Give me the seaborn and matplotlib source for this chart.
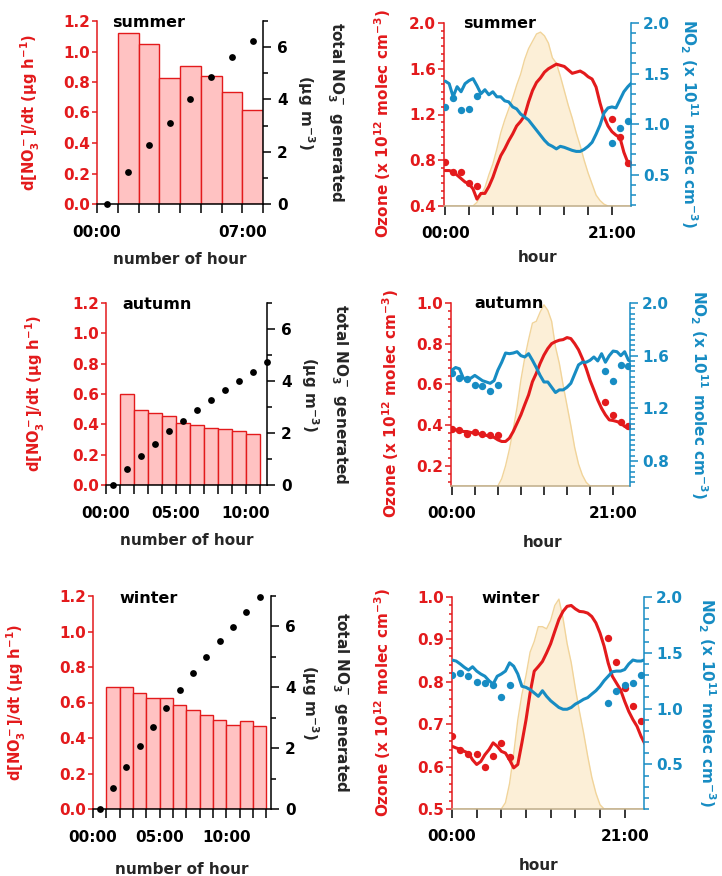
import numpy as np
import pandas as pd
import seaborn as sns
import matplotlib
matplotlib.use('Agg')
from matplotlib import pyplot as plt
from matplotlib.ticker import MultipleLocator, AutoMinorLocator, FuncFormatter, FormatStrFormatter

RED = '#E31A1C'
BLUE = '#178CC3'
BAR_FILL = '#FFC2C2'
SUN_FILL = '#FCEFD7'
SUN_EDGE = '#F1D49A'
BASE = '#BFAE8C'

# ---- left column: nocturnal nitrate production ----
rate_summer = [1.12, 1.047, 0.827, 0.906, 0.838, 0.735, 0.619]
total_summer = [0, 1.21, 2.26, 3.09, 4.02, 4.85, 5.61, 6.24]
rate_autumn = [0.603, 0.494, 0.474, 0.454, 0.412, 0.395, 0.373, 0.366, 0.353, 0.336]
total_autumn = [0, 0.60, 1.12, 1.58, 2.06, 2.48, 2.88, 3.28, 3.64, 4.00, 4.34, 4.72]
rate_winter = [0.69, 0.69, 0.655, 0.625, 0.625, 0.585, 0.555, 0.53, 0.50, 0.475, 0.495, 0.465]
total_winter = [0, 0.70, 1.38, 2.07, 2.69, 3.32, 3.90, 4.46, 5.00, 5.51, 5.98, 6.47, 6.97]

# ---- right column: diurnal ozone / NO2 / sunlight ----
hours = np.arange(0, 24, 0.5)

o3_summer = [0.71, 0.71, 0.70, 0.67, 0.64, 0.61, 0.595, 0.55,
             0.46, 0.51, 0.51, 0.57, 0.65, 0.75, 0.84, 0.90,
             0.97, 1.03, 1.10, 1.14, 1.19, 1.31, 1.41, 1.48,
             1.52, 1.57, 1.60, 1.62, 1.64, 1.63, 1.62, 1.59,
             1.56, 1.57, 1.58, 1.56, 1.53, 1.51, 1.44, 1.30,
             1.18, 1.10, 1.05, 1.02, 1.00, 0.87, 0.78, 0.74]
no2_summer = [1.425, 1.40, 1.27, 1.37, 1.32, 1.40, 1.43, 1.45,
              1.38, 1.30, 1.34, 1.29, 1.32, 1.27, 1.27, 1.23,
              1.22, 1.17, 1.15, 1.10, 1.07, 1.04, 0.99, 0.94,
              0.89, 0.84, 0.80, 0.78, 0.755, 0.78, 0.77, 0.755,
              0.74, 0.73, 0.73, 0.75, 0.78, 0.82, 0.90, 0.99,
              1.11, 1.16, 1.17, 1.16, 1.24, 1.32, 1.37, 1.41]
sun_summer = [0, 0, 0, 0, 0, 0, 0, 0,
              0.02, 0.06, 0.10, 0.17, 0.23, 0.31, 0.40, 0.47,
              0.53, 0.59, 0.66, 0.72, 0.80, 0.86, 0.90, 0.94,
              0.95, 0.93, 0.89, 0.81, 0.78, 0.71, 0.63, 0.55,
              0.48, 0.40, 0.33, 0.25, 0.18, 0.12, 0.06, 0.03,
              0.01, 0, 0, 0, 0, 0, 0, 0]
dot_hours_summer = [0, 1, 2, 3, 4, 21, 22, 23]
o3_dots_summer = [0.785, 0.70, 0.70, 0.60, 0.575, 1.16, 1.00, 0.78]
no2_dots_summer = [1.17, 1.26, 1.14, 1.15, 1.28, 0.81, 0.96, 1.035]

o3_autumn = [0.385, 0.376, 0.376, 0.368, 0.368, 0.363, 0.36, 0.357,
             0.352, 0.349, 0.344, 0.339, 0.327, 0.319, 0.319, 0.335,
             0.368, 0.409, 0.45, 0.50, 0.548, 0.613, 0.654, 0.703,
             0.744, 0.776, 0.80, 0.81, 0.817, 0.82, 0.83, 0.825,
             0.80, 0.77, 0.727, 0.678, 0.62, 0.572, 0.523, 0.482,
             0.45, 0.425, 0.422, 0.417, 0.409, 0.393, 0.384, 0.384]
no2_autumn = [1.49, 1.51, 1.50, 1.43, 1.42, 1.43, 1.45, 1.43,
              1.41, 1.40, 1.39, 1.41, 1.49, 1.55, 1.62, 1.615,
              1.62, 1.63, 1.60, 1.59, 1.615, 1.565, 1.51, 1.45,
              1.40, 1.40, 1.36, 1.32, 1.34, 1.34, 1.36, 1.39,
              1.46, 1.53, 1.55, 1.55, 1.565, 1.59, 1.56, 1.615,
              1.55, 1.60, 1.635, 1.63, 1.60, 1.63, 1.565, 1.55]
sun_autumn = [0, 0, 0, 0, 0, 0, 0, 0,
              0, 0, 0, 0, 0, 0.04, 0.11, 0.20,
              0.31, 0.43, 0.58, 0.70, 0.80, 0.89, 0.90, 0.95,
              0.99, 0.96, 0.90, 0.76, 0.67, 0.55, 0.44, 0.33,
              0.21, 0.12, 0.06, 0.02, 0, 0, 0, 0,
              0, 0, 0, 0, 0, 0, 0, 0]
dot_hours_autumn = [0, 1, 2, 3, 4, 5, 6, 20, 21, 22, 23]
o3_dots_autumn = [0.38, 0.376, 0.357, 0.368, 0.357, 0.352, 0.349, 0.515, 0.45, 0.417, 0.397]
no2_dots_autumn = [1.47, 1.43, 1.42, 1.38, 1.37, 1.33, 1.38, 1.48, 1.41, 1.53, 1.52]

o3_winter = [0.648, 0.644, 0.641, 0.636, 0.632, 0.616, 0.605, 0.612,
             0.628, 0.64, 0.656, 0.648, 0.636, 0.632, 0.616, 0.597,
             0.605, 0.656, 0.71, 0.774, 0.825, 0.836, 0.848, 0.868,
             0.89, 0.919, 0.947, 0.966, 0.978, 0.98, 0.972, 0.966,
             0.965, 0.962, 0.954, 0.939, 0.915, 0.884, 0.844, 0.813,
             0.797, 0.781, 0.754, 0.73, 0.711, 0.695, 0.671, 0.652]
no2_winter = [1.435, 1.426, 1.40, 1.37, 1.345, 1.375, 1.336, 1.31,
              1.29, 1.25, 1.22, 1.29, 1.31, 1.336, 1.41, 1.38,
              1.31, 1.20, 1.19, 1.17, 1.14, 1.11, 1.16, 1.11,
              1.07, 1.04, 1.01, 0.994, 0.994, 1.01, 1.04, 1.06,
              1.083, 1.098, 1.13, 1.16, 1.20, 1.25, 1.29, 1.33,
              1.336, 1.336, 1.35, 1.40, 1.435, 1.426, 1.426, 1.44]
sun_winter = [0, 0, 0, 0, 0, 0, 0, 0,
              0, 0, 0, 0, 0, 0.03, 0.12, 0.26,
              0.42, 0.54, 0.63, 0.74, 0.79, 0.86, 0.86, 0.85,
              0.89, 0.96, 0.99, 0.90, 0.78, 0.69, 0.57, 0.46,
              0.36, 0.25, 0.15, 0.075, 0.02, 0, 0, 0,
              0, 0, 0, 0, 0, 0, 0, 0]
dot_hours_winter = [0, 1, 2, 3, 4, 5, 6, 7, 19, 20, 21, 22, 23]
o3_dots_winter = [0.671, 0.638, 0.63, 0.63, 0.599, 0.624, 0.656, 0.623, 0.903, 0.846, 0.785, 0.742, 0.707]
no2_dots_winter = [1.30, 1.32, 1.29, 1.24, 1.23, 1.21, 1.10, 1.21, 1.05, 1.16, 1.21, 1.23, 1.30]

sns.set_theme(style='ticks')
plt.rcParams['font.family'] = ['DejaVu Sans']
plt.rcParams['font.weight'] = 'bold'
plt.rcParams['axes.labelweight'] = 'bold'
plt.rcParams['font.size'] = 11
plt.rcParams['axes.labelsize'] = 11
plt.rcParams['xtick.labelsize'] = 11
plt.rcParams['ytick.labelsize'] = 11
plt.rcParams['mathtext.fontset'] = 'custom'
plt.rcParams['mathtext.rm'] = 'DejaVu Sans:bold'
plt.rcParams['mathtext.it'] = 'DejaVu Sans:bold:italic'
plt.rcParams['mathtext.bf'] = 'DejaVu Sans:bold'
plt.rcParams['mathtext.default'] = 'rm'

W, H = 722, 876
fig = plt.figure(figsize=(W / 100, H / 100), dpi=100)


def rect(l, t, r, b):
    return [l / W, 1 - b / H, (r - l) / W, (b - t) / H]


def hour_fmt(keep):
    return FuncFormatter(lambda v, p: f'{int(round(v)):02d}:00' if int(round(v)) in keep else '')


def rate_panel(pos, season, rate, total, xmax, keep, lab, text_x):
    ax = fig.add_axes(pos)
    bars = pd.DataFrame({'hour': np.arange(len(rate)) + 1.5, 'rate': rate})
    sns.barplot(data=bars, x='hour', y='rate', native_scale=True, width=1, ax=ax,
                color=BAR_FILL, saturation=1, edgecolor=RED, linewidth=1.0, errorbar=None)
    ax.set_xlim(0, xmax)
    ax.set_ylim(0, 1.2)
    ax.set_yticks(np.arange(0, 1.21, 0.2))
    ax.yaxis.set_major_formatter(FormatStrFormatter('%.1f'))
    ax.xaxis.set_major_locator(MultipleLocator(1))
    ax.xaxis.set_major_formatter(hour_fmt(keep))
    for s in ['top', 'right']:
        ax.spines[s].set_visible(False)
    ax.spines['left'].set_color(RED)
    ax.spines['bottom'].set_color('black')
    for s in ['left', 'bottom']:
        ax.spines[s].set_linewidth(1.1)
    ax.tick_params(axis='y', colors=RED, length=3.6, width=1.1, pad=1.5)
    ax.tick_params(axis='x', colors='black', length=6.5, width=1.1, pad=8.5)
    ax.set_ylabel(r'd[NO$_3^-$]/dt (μg h$^{-1}$)', color=RED, fontsize=10.5)
    ax.yaxis.set_label_coords(lab[0], 0.5)
    ax.set_xlabel('number of hour')
    ax.xaxis.set_label_coords(0.5, lab[2])
    ax.text(text_x, 0.965, season, transform=ax.transAxes, fontsize=11.5,
            fontweight='bold', va='baseline', color='black')

    ax2 = ax.twinx()
    sns.scatterplot(x=np.arange(len(total)) + 0.5, y=total, ax=ax2, color='black',
                    s=24, linewidth=0, clip_on=False, zorder=5)
    ax2.set_ylim(0, 7)
    ax2.yaxis.set_major_locator(MultipleLocator(2))
    ax2.yaxis.set_minor_locator(MultipleLocator(1))
    for s in ['top', 'left', 'bottom']:
        ax2.spines[s].set_visible(False)
    ax2.spines['right'].set_color('black')
    ax2.spines['right'].set_linewidth(1.1)
    ax2.tick_params(axis='y', which='major', colors='black', length=5.8, width=1.1, pad=4.3)
    ax2.tick_params(axis='y', which='minor', colors='black', length=3.6, width=1.1)
    ax2.set_ylabel('total NO$_3^-$ generated\n(μg m$^{-3}$)', rotation=270, va='bottom',
                   linespacing=1.5, multialignment='center')
    ax2.yaxis.set_label_coords(lab[1], 0.5)


def chem_panel(pos, season, o3, no2, sun, dot_hours, o3_dots, no2_dots, xlim,
               o3_lim, o3_step, o3_minor, no2_lim, no2_step, no2_minor, lab, text_x):
    ax_sun = fig.add_axes(pos)
    ax_sun.fill_between(hours, sun, color=SUN_FILL, linewidth=0)
    sns.lineplot(x=hours, y=sun, ax=ax_sun, color=SUN_EDGE, linewidth=1.0)
    ax_sun.set_xlim(xlim)
    ax_sun.set_ylim(0, 1)
    ax_sun.axis('off')

    ax = fig.add_axes(pos)
    ax.patch.set_visible(False)
    sns.lineplot(x=hours, y=o3, ax=ax, color=RED, linewidth=2.2)
    sns.scatterplot(x=dot_hours, y=o3_dots, ax=ax, color=RED, s=28, linewidth=0, zorder=5)
    ax.set_xlim(xlim)
    ax.set_ylim(o3_lim)
    ax.yaxis.set_major_locator(MultipleLocator(o3_step))
    ax.yaxis.set_minor_locator(AutoMinorLocator(o3_minor))
    ax.yaxis.set_major_formatter(FormatStrFormatter('%.1f'))
    ax.xaxis.set_major_locator(MultipleLocator(3))
    ax.xaxis.set_major_formatter(hour_fmt([0, 21]))
    for s in ['top', 'right']:
        ax.spines[s].set_visible(False)
    ax.spines['left'].set_color(RED)
    ax.spines['left'].set_linewidth(1.1)
    ax.spines['bottom'].set_color(BASE)
    ax.spines['bottom'].set_linewidth(1.1)
    ax.tick_params(axis='y', which='major', colors=RED, length=4.3, width=1.1, pad=1.5)
    ax.tick_params(axis='y', which='minor', colors=RED, length=2.5, width=1.1)
    ax.tick_params(axis='x', colors='black', length=6.5, width=1.1, pad=8)
    ax.set_ylabel('Ozone (x 10$^{12}$ molec cm$^{-3}$)', color=RED)
    ax.yaxis.set_label_coords(lab[0], lab[3])
    ax.set_xlabel('hour')
    ax.xaxis.set_label_coords(lab[5], lab[2])
    ax.text(text_x, 0.97, season, transform=ax.transAxes, fontsize=11.5,
            fontweight='bold', va='baseline', color='black')

    ax2 = ax.twinx()
    sns.lineplot(x=hours, y=no2, ax=ax2, color=BLUE, linewidth=2.2)
    sns.scatterplot(x=dot_hours, y=no2_dots, ax=ax2, color=BLUE, s=28, linewidth=0, zorder=5)
    ax2.set_ylim(no2_lim)
    ax2.yaxis.set_major_locator(MultipleLocator(no2_step))
    ax2.yaxis.set_minor_locator(AutoMinorLocator(no2_minor))
    ax2.yaxis.set_major_formatter(FormatStrFormatter('%.1f'))
    for s in ['top', 'left', 'bottom']:
        ax2.spines[s].set_visible(False)
    ax2.spines['right'].set_color(BLUE)
    ax2.spines['right'].set_linewidth(1.1)
    ax2.tick_params(axis='y', which='major', colors=BLUE, length=5.8, width=1.1, pad=3)
    ax2.tick_params(axis='y', which='minor', colors=BLUE, length=3.6, width=1.1)
    ax2.set_ylabel('NO$_2$ (x 10$^{11}$ molec cm$^{-3}$)', color=BLUE, rotation=270, va='bottom')
    ax2.yaxis.set_label_coords(lab[1], lab[4])


rate_panel(rect(97, 21, 263, 204), 'summer', rate_summer, total_summer, 8, [0, 7],
           (-0.331, 1.19, -0.262), 0.09)
rate_panel(rect(106, 303, 267, 485), 'autumn', rate_autumn, total_autumn, 11.5, [0, 5, 10],
           (-0.366, 1.20, -0.264), 0.10)
rate_panel(rect(93, 596, 271, 809), 'winter', rate_winter, total_winter, 13.35, [0, 5, 10],
           (-0.365, 1.16, -0.249), 0.15)

chem_panel(rect(444, 23, 631, 206), 'summer', o3_summer, no2_summer, sun_summer,
           dot_hours_summer, o3_dots_summer, no2_dots_summer, (-0.15, 23.4),
           (0.4, 2.0), 0.4, 6, (0.19, 2.0), 0.5, 5,
           (-0.273, 1.251, -0.24, 0.45, 0.45, 0.5), 0.10)
chem_panel(rect(451, 303, 630, 486), 'autumn', o3_autumn, no2_autumn, sun_autumn,
           dot_hours_autumn, o3_dots_autumn, no2_dots_autumn, (-0.1, 23.2),
           (0.1, 1.0), 0.2, 5, (0.61, 2.0), 0.4, 10,
           (-0.279, 1.324, -0.268, 0.45, 0.5, 0.51), 0.13)
chem_panel(rect(452, 597, 644, 809), 'winter', o3_winter, no2_winter, sun_winter,
           dot_hours_winter, o3_dots_winter, no2_dots_winter, (0, 23.35),
           (0.5, 1.0), 0.1, 5, (0.1, 2.0), 0.5, 5,
           (-0.307, 1.271, -0.231, 0.5, 0.5, 0.45), 0.155)

fig.savefig('out.png', dpi=100)
